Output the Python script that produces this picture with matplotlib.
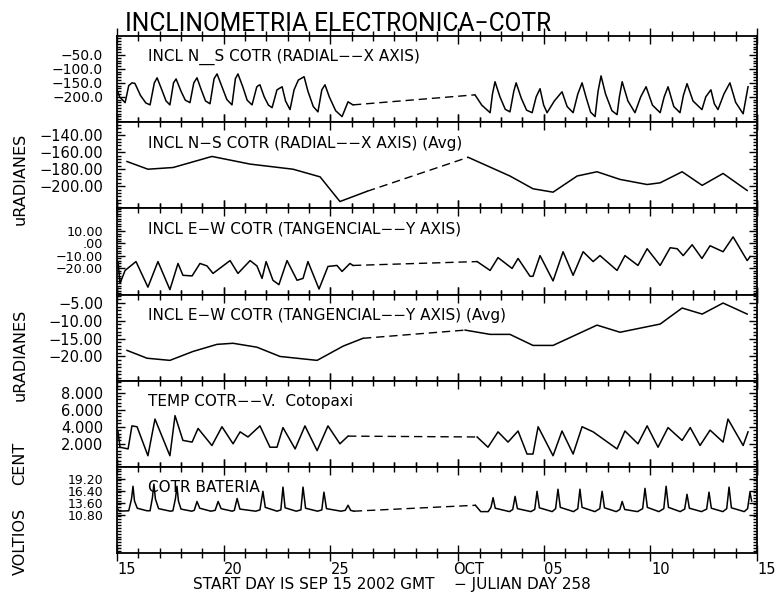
import matplotlib
matplotlib.use('Agg')
import matplotlib.pyplot as plt
from matplotlib.ticker import MultipleLocator, FixedLocator
from matplotlib.transforms import ScaledTranslation

# days since Sep 15 2002 (0 .. 30)
ns_day_a = [0.0, 0.12, 0.38, 0.55, 0.70, 0.84, 1.1, 1.35, 1.55, 1.75, 1.88, 2.1, 2.3, 2.48, 2.65,
            2.77, 3.0, 3.2, 3.42, 3.6, 3.75, 3.95, 4.15, 4.36, 4.55, 4.69, 4.9, 5.15, 5.39, 5.55,
            5.67, 5.9, 6.1, 6.33, 6.55, 6.62, 6.70, 6.9, 7.1, 7.27, 7.5, 7.74, 7.9, 8.11, 8.3,
            8.5, 8.77, 8.95, 9.2, 9.42, 9.6, 9.75, 9.95, 10.25, 10.55, 10.83, 11.06]
ns_val_a = [-175, -200, -221, -160, -150, -152, -195, -222, -229, -150, -132, -175, -215, -229,
            -150, -136, -180, -212, -221, -150, -132, -175, -215, -225, -135, -118, -160, -210,
            -229, -135, -118, -165, -212, -229, -165, -160, -157, -200, -230, -239, -175, -164,
            -215, -246, -175, -140, -128, -180, -235, -254, -175, -157, -200, -250, -271, -218,
            -229]
ns_day_b = [16.78, 17.1, 17.49, 17.6, 17.72, 17.95, 18.2, 18.42, 18.6, 18.71, 18.95, 19.2, 19.46,
            19.65, 19.83, 20.0, 20.16, 20.5, 20.86, 21.1, 21.38, 21.6, 21.80, 22.0, 22.2, 22.41,
            22.55, 22.69, 22.9, 23.2, 23.44, 23.55, 23.68, 23.95, 24.28, 24.55, 24.80, 25.1,
            25.46, 25.65, 25.83, 26.1, 26.39, 26.55, 26.72, 27.0, 27.42, 27.6, 27.84, 28.0,
            28.17, 28.45, 28.73, 29.0, 29.35, 29.58]
ns_val_b = [-193, -230, -257, -190, -146, -200, -245, -254, -180, -150, -205, -248, -257, -200,
            -171, -230, -257, -215, -182, -235, -257, -190, -150, -205, -255, -271, -180, -125,
            -190, -250, -264, -200, -146, -215, -257, -200, -164, -230, -257, -200, -164, -235,
            -257, -195, -153, -215, -246, -200, -175, -225, -246, -190, -150, -220, -261, -164]

nsavg_day_a = [0.47, 1.45, 2.63, 4.45, 6.24, 8.25, 9.52, 10.45, 11.72]
nsavg_val_a = [-171, -180, -178, -165, -174, -180, -189, -218, -206]
nsavg_day_b = [16.46, 18.42, 19.50, 20.44, 21.57, 22.50, 23.58, 24.85, 25.46, 26.49, 27.43,
               28.41, 29.54]
nsavg_val_b = [-166, -188, -203, -207, -188, -183, -192, -198, -196, -183, -199, -185, -205]

ew_day_a = [0.05, 0.14, 0.38, 0.89, 1.45, 1.92, 2.48, 2.86, 3.09, 3.52, 3.89, 4.22, 4.50, 5.30,
            5.67, 6.24, 6.56, 6.80, 6.99, 7.31, 7.59, 7.97, 8.44, 8.72, 8.95, 9.47, 9.89, 10.31,
            10.55, 10.92, 11.06]
ew_val_a = [-14.5, -32, -21.6, -14.5, -35, -14.5, -37, -16, -25.5, -26, -16, -18, -24, -13.7,
            -24, -13.7, -18, -28, -14.5, -29.5, -33, -13.7, -29.5, -28, -14.5, -36.5, -18.4,
            -17.6, -22.4, -16, -17.6]
ew_day_b = [16.88, 17.49, 17.86, 18.52, 18.80, 19.36, 19.50, 19.83, 20.44, 20.91, 21.38, 21.85,
            22.32, 22.64, 23.44, 23.81, 24.42, 24.85, 25.46, 25.93, 26.26, 26.54, 26.96, 27.42,
            27.80, 28.41, 28.88, 29.54, 29.68]
ew_val_b = [-14.5, -21.6, -11.3, -20, -12, -26.3, -26.3, -9.7, -30, -6.6, -25.5, -6.6, -14.5,
            -9.7, -21.6, -9.7, -17.6, -4.2, -17.6, -3.4, -4.2, -9.7, -1, -12, -1.8, -6.6, 5.3,
            -13.7, -10.5]

ewavg_day_a = [0.47, 1.41, 2.48, 3.56, 4.69, 5.44, 6.56, 7.64, 9.38, 10.60, 11.53]
ewavg_val_a = [-18.3, -20.5, -21.1, -18.6, -16.6, -16.3, -17.4, -20.0, -21.1, -17.1, -14.9]
ewavg_day_b = [16.32, 17.49, 18.42, 19.50, 20.44, 22.50, 23.58, 25.46, 26.49, 27.43, 28.41, 29.54]
ewavg_val_b = [-12.6, -13.8, -13.8, -16.9, -16.9, -11.2, -13.2, -10.9, -6.4, -8.1, -5.0, -8.1]

temp_day_a = [0.05, 0.14, 0.52, 0.70, 0.94, 1.45, 1.78, 2.48, 2.72, 3.09, 3.52, 3.80, 4.45, 4.92,
              5.44, 5.77, 6.14, 6.70, 7.17, 7.50, 7.78, 8.35, 8.81, 9.38, 9.89, 10.45, 10.83]
temp_val_a = [3.4, 1.6, 1.4, 4.1, 4.0, 0.6, 4.9, 0.6, 5.3, 2.4, 2.2, 3.8, 1.8, 4.0, 2.0, 3.4, 2.8,
              4.1, 1.6, 1.6, 3.9, 1.4, 4.1, 1.2, 4.1, 2.0, 2.9]
temp_day_b = [16.88, 17.39, 17.86, 18.33, 18.80, 19.22, 19.50, 19.74, 20.44, 20.86, 21.38, 21.80,
              22.32, 23.44, 23.81, 24.42, 24.85, 25.36, 25.83, 26.49, 26.87, 27.33, 27.80, 28.41,
              28.64, 29.35, 29.58]
temp_val_b = [2.8, 1.6, 3.4, 2.2, 3.5, 0.8, 0.8, 4.0, 0.6, 3.5, 0.8, 4.0, 3.4, 1.4, 3.5, 2.0, 4.1,
              1.6, 3.9, 2.4, 3.9, 1.8, 3.6, 2.2, 4.9, 1.8, 3.4]

bat_day_a = [0.0, 0.1, 0.55, 0.68, 0.75, 0.82, 0.95, 1.4, 1.55, 1.66, 1.73, 1.8, 1.95, 2.5, 2.62,
             2.74, 2.81, 2.88, 3.0, 3.5, 3.62, 3.75, 3.88, 4.4, 4.6, 4.74, 4.88, 5.4, 5.5, 5.63,
             5.76, 6.5, 6.7, 6.84, 6.95, 7.5, 7.68, 7.78, 7.88, 8.4, 8.62, 8.72, 8.84, 9.4, 9.6,
             9.70, 9.82, 10.5, 10.7, 10.83, 10.95, 11.1]
bat_val_a = [12.4, 11.6, 11.7, 14.5, 17.5, 14.0, 12.3, 11.7, 11.7, 14.8, 18.0, 14.5, 12.2, 11.6,
             11.7, 14.6, 17.5, 14.0, 12.1, 11.6, 11.8, 13.9, 12.3, 11.6, 11.8, 13.9, 12.2, 11.6,
             11.8, 14.6, 12.1, 11.6, 11.9, 16.3, 12.5, 11.6, 11.9, 17.3, 12.4, 11.6, 11.9, 17.3,
             12.3, 11.6, 11.9, 16.1, 12.2, 11.6, 11.8, 13.0, 11.8, 11.6]
bat_day_b = [16.8, 17.05, 17.4, 17.53, 17.63, 17.73, 18.4, 18.55, 18.66, 18.77, 19.4, 19.58, 19.69,
             19.8, 20.4, 20.56, 20.67, 20.78, 21.4, 21.6, 21.70, 21.8, 22.4, 22.63, 22.74, 22.85,
             23.4, 23.57, 23.68, 23.8, 24.4, 24.64, 24.75, 24.86, 25.4, 25.63, 25.74, 25.85, 26.4,
             26.61, 26.72, 26.83, 27.4, 27.64, 27.75, 27.86, 28.4, 28.58, 28.69, 28.8, 29.4,
             29.56, 29.67, 29.75]
bat_val_b = [13.0, 11.5, 11.5, 12.5, 14.8, 12.3, 11.5, 12.0, 15.1, 12.2, 11.5, 12.0, 16.3, 12.4,
             11.5, 12.2, 16.8, 12.5, 11.5, 12.2, 16.8, 12.5, 11.5, 12.2, 16.3, 12.4, 11.5, 12.0,
             13.9, 12.0, 11.5, 12.2, 17.0, 12.5, 11.5, 12.2, 17.5, 12.5, 11.5, 12.1, 15.6, 12.3,
             11.5, 12.1, 16.1, 12.3, 11.5, 12.2, 17.3, 12.4, 11.5, 12.2, 16.1, 14.0]

xtick_days = [0, 5, 10, 16, 20, 25, 30]
xtick_labels = ['15', '20', '25', 'OCT', '05', '10', '15']

M = '\u2212'
panels = [
    dict(a=(ns_day_a, ns_val_a), b=(ns_day_b, ns_val_b), ylim=(-291, 18),
         yt=[-200, -150, -100, -50], ylab=[M + '200.0', M + '150.0', M + '100.0', M + '50.0'],
         ymin=10, fs=10, name='INCL N__S COTR (RADIAL' + M + M + 'X AXIS)'),
    dict(a=(nsavg_day_a, nsavg_val_a), b=(nsavg_day_b, nsavg_val_b), ylim=(-226, -124.7),
         yt=[-200, -180, -160, -140], ylab=[M + '200.00', M + '180.00', M + '160.00', M + '140.00'],
         ymin=4, fs=10.5, name='INCL N' + M + 'S COTR (RADIAL' + M + M + 'X AXIS) (Avg)'),
    dict(a=(ew_day_a, ew_val_a), b=(ew_day_b, ew_val_b), ylim=(-40.9, 28.2),
         yt=[-20, -10, 0, 10], ylab=[M + '20.00', M + '10.00', '.00', '10.00'],
         ymin=2, fs=9.2, name='INCL E' + M + 'W COTR (TANGENCIAL' + M + M + 'Y AXIS)'),
    dict(a=(ewavg_day_a, ewavg_val_a), b=(ewavg_day_b, ewavg_val_b), ylim=(-26.8, -2.6),
         yt=[-20, -15, -10, -5], ylab=[M + '20.00', M + '15.00', M + '10.00', M + '5.00'],
         ymin=1, fs=10.5, name='INCL E' + M + 'W COTR (TANGENCIAL' + M + M + 'Y AXIS) (Avg)'),
    dict(a=(temp_day_a, temp_val_a), b=(temp_day_b, temp_val_b), ylim=(-0.7, 9.4),
         yt=[2, 4, 6, 8], ylab=['2.000', '4.000', '6.000', '8.000'],
         ymin=0.4, fs=10.5, name='TEMP COTR' + M + M + 'V.  Cotopaxi'),
    dict(a=(bat_day_a, bat_val_a), b=(bat_day_b, bat_val_b), ylim=(1.7, 22.1),
         yt=[10.8, 13.6, 16.4, 19.2], ylab=['10.80', '13.60', '16.40', '19.20'],
         ymin=0.7, fs=9, name='COTR BATERIA'),
]

W, H = 776.0, 593.0
top_px, bot_px = 36.0, 553.0
ph = (bot_px - top_px) / 6

fig = plt.figure(figsize=(7.76, 5.93), dpi=100)

for i, p in enumerate(panels):
    y0 = top_px + (i + 1) * ph
    ax = fig.add_axes([117 / W, 1 - y0 / H, 640 / W, ph / H])
    da, va = p['a']
    db, vb = p['b']
    ax.plot(da, va, color='k', lw=1.1)
    ax.plot([da[-1], db[0]], [va[-1], vb[0]], color='k', lw=1.0, dashes=(6, 3.5))
    ax.plot(db, vb, color='k', lw=1.1)
    ax.set_xlim(0, 30)
    ax.set_ylim(p['ylim'])
    for s in ax.spines.values():
        s.set_linewidth(1.3)

    ax.xaxis.set_major_locator(FixedLocator(xtick_days))
    ax.xaxis.set_minor_locator(MultipleLocator(1))
    ax.tick_params(axis='x', which='both', direction='inout', top=True, bottom=True, width=1)
    ax.tick_params(axis='x', which='major', length=11, pad=1, labelsize=10.5)
    ax.tick_params(axis='x', which='minor', length=6.5)

    ax.set_yticks(p['yt'])
    ax.set_yticklabels(p['ylab'])
    ax.yaxis.set_minor_locator(MultipleLocator(p['ymin']))
    ax.tick_params(axis='y', which='both', direction='in', left=True, right=True, width=1)
    ax.tick_params(axis='y', which='major', length=6, pad=10, labelsize=p['fs'])
    ax.tick_params(axis='y', which='minor', length=3)

    ax.text(31 / 640, 1 - 21 / ph, p['name'], transform=ax.transAxes, fontsize=11,
            ha='left', va='center')

    if i < 5:
        ax.set_xticklabels([])
    else:
        ax.set_xticklabels(xtick_labels)
        for lab in ax.get_xticklabels():
            lab.set_transform(lab.get_transform() + ScaledTranslation(0.1, 0, fig.dpi_scale_trans))

fig.text(125 / W, 1 - 24 / H, 'INCLINOMETRIA ELECTRONICA' + M + 'COTR', fontsize=17.7,
         family='Roboto', ha='left', va='center')
fig.text(392 / W, 1 - 585 / H, 'START DAY IS SEP 15 2002 GMT    ' + M + ' JULIAN DAY 258',
         fontsize=11, ha='center', va='center')

for txt, yc in [('uRADIANES', 179), ('uRADIANES', 355), ('CENT', 463), ('VOLTIOS', 541)]:
    fig.text(20 / W, 1 - yc / H, txt, rotation=90, fontsize=11.5, ha='center', va='center')

fig.savefig('out.png', dpi=100)
